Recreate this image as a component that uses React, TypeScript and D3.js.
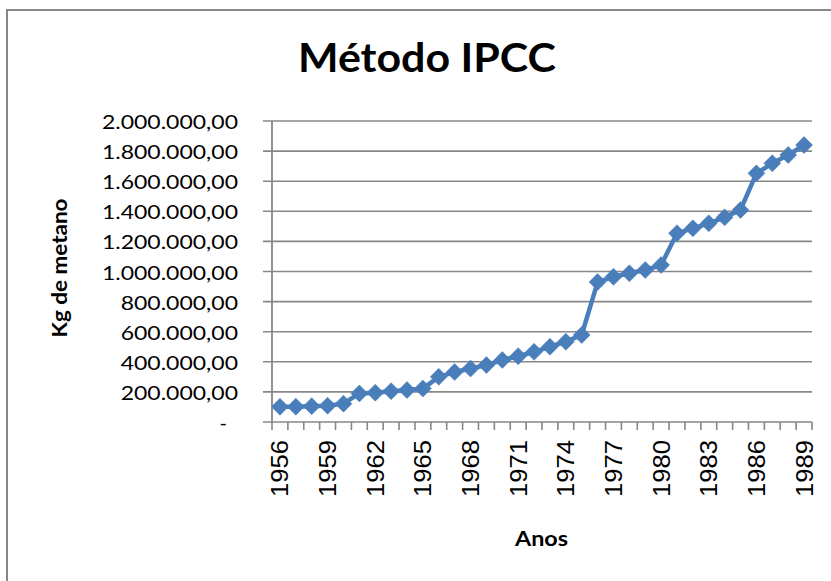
import React from "react";
import * as d3 from "d3";

const years: string[] = [
  "1956", "1957", "1958", "1959", "1960", "1961", "1962", "1963", "1964", "1965",
  "1966", "1967", "1968", "1969", "1970", "1971", "1972", "1973", "1974", "1975",
  "1976", "1977", "1978", "1979", "1980", "1981", "1982", "1983", "1984", "1985",
  "1986", "1987", "1988", "1989",
];

const values: number[] = [
  101000, 102000, 105000, 108000, 122000, 190000, 195000, 205000, 212000, 222000,
  300000, 332000, 355000, 378000, 412000, 437000, 466000, 500000, 534000, 578000,
  930000, 965000, 988000, 1010000, 1043000, 1254000, 1287000, 1320000, 1360000, 1409000,
  1652000, 1719000, 1774000, 1840000,
];

const xTickLabels: string[] = [
  "1956", "1959", "1962", "1965", "1968", "1971", "1974", "1977", "1980", "1983", "1986", "1989",
];

const yTicks: number[] = [0, 200000, 400000, 600000, 800000, 1000000, 1200000, 1400000, 1600000, 1800000, 2000000];

const title = "Método IPCC";
const xTitle = "Anos";
const yTitle = "Kg de metano";

const W = 831;
const H = 581;
const left = 272;
const right = 812;
const top = 121;
const bottom = 422;

const ptBR = d3.formatLocale({ decimal: ",", thousands: ".", grouping: [3], currency: ["R$", ""] });
const fmt = ptBR.format(",.2f");

const GRID = "#878787";
const BLUE = "#4A7EBB";

export default function App() {
  const x = d3.scaleBand<string>().domain(years).range([left, right]).padding(0);
  const bw = x.bandwidth();
  const cx = (d: string) => (x(d) as number) + bw / 2;
  const y = d3.scaleLinear().domain([0, 2000000]).range([bottom, top]);

  const data = years.map((yr, i) => ({ yr, v: values[i] }));
  const line = d3
    .line<{ yr: string; v: number }>()
    .x((d) => cx(d.yr))
    .y((d) => y(d.v));

  const tickXs = years.map((yr) => x(yr) as number).concat([right]);
  const diamond = (px: number, py: number, r: number) =>
    `M${px},${py - r}L${px + r},${py}L${px},${py + r}L${px - r},${py}Z`;

  const labelFont = "'Lato', 'Open Sans', 'Liberation Sans', sans-serif";

  return (
    <svg
      width={W}
      height={H}
      style={{ position: "fixed", left: 0, top: 0, background: "#fff", display: "block" }}
    >
      <rect x={0} y={0} width={W} height={H} fill="#fff" />
      <rect x={7} y={10} width={W + 50} height={H + 50} fill="none" stroke={GRID} strokeWidth={2} />

      <text
        x={427}
        y={72}
        textAnchor="middle"
        fontFamily={labelFont}
        fontWeight="bold"
        fontSize={40}
        textLength={258}
        lengthAdjust="spacingAndGlyphs"
        fill="#000"
      >
        {title}
      </text>

      {yTicks.map((t) => (
        <line key={"g" + t} x1={263} x2={right} y1={y(t)} y2={y(t)} stroke={GRID} strokeWidth={1.6} />
      ))}

      <line x1={left} x2={left} y1={top} y2={bottom} stroke={GRID} strokeWidth={1.8} />
      {tickXs.map((tx, i) => (
        <line key={"xt" + i} x1={tx} x2={tx} y1={bottom} y2={bottom + 8} stroke={GRID} strokeWidth={1.6} />
      ))}

      {yTicks.map((t) =>
        t === 0 ? (
          <text key={"yl" + t} x={227} y={y(t) + 8} textAnchor="end" fontFamily={labelFont} fontSize={20} fill="#000">
            -
          </text>
        ) : (
          <g key={"yl" + t} transform={`translate(238,${y(t) + 8}) scale(1.15,1)`}>
            <text x={0} y={0} textAnchor="end" fontFamily={labelFont} fontSize={20} fill="#000">
              {fmt(t)}
            </text>
          </g>
        )
      )}

      {xTickLabels.map((lbl) => (
        <text
          key={"xl" + lbl}
          transform={`translate(${cx(lbl) + 8.5},440) rotate(-90)`}
          textAnchor="end"
          fontFamily="'Liberation Sans', Arial, sans-serif"
          fontSize={23.5}
          textLength={57}
          lengthAdjust="spacingAndGlyphs"
          fill="#000"
        >
          {lbl}
        </text>
      ))}

      <path d={line(data) || ""} fill="none" stroke={BLUE} strokeWidth={4.5} strokeLinejoin="round" />
      {data.map((d) => (
        <path key={"m" + d.yr} d={diamond(cx(d.yr), y(d.v), 8.5)} fill={BLUE} stroke={BLUE} strokeWidth={0.5} />
      ))}

      <text
        x={541.5}
        y={546}
        textAnchor="middle"
        fontFamily={labelFont}
        fontWeight="bold"
        fontSize={21}
        textLength={53}
        lengthAdjust="spacingAndGlyphs"
        fill="#000"
      >
        {xTitle}
      </text>

      <text
        transform={`translate(67,268) rotate(-90)`}
        textAnchor="middle"
        fontFamily={labelFont}
        fontWeight="bold"
        fontSize={21}
        textLength={139}
        lengthAdjust="spacingAndGlyphs"
        fill="#000"
      >
        {yTitle}
      </text>
    </svg>
  );
}
